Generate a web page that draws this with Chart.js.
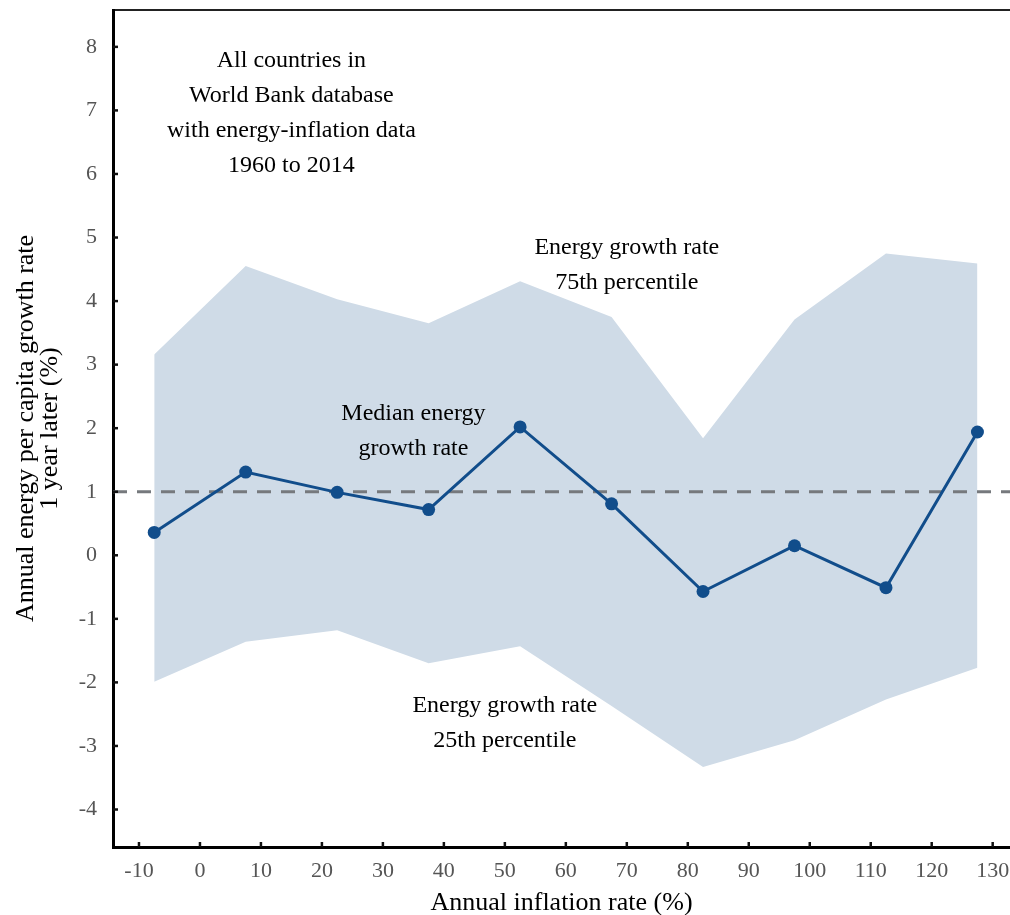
<!DOCTYPE html>
<html>
<head>
<meta charset="utf-8">
<script src="https://cdn.jsdelivr.net/npm/chart.js@4.4.1/dist/chart.umd.min.js"></script>
<style>
  html, body { margin: 0; padding: 0; background: #fff; }
  #wrap { width: 1010px; height: 915px; }
</style>
</head>
<body>
<div id="wrap"><canvas id="myChart" width="1010" height="915"></canvas></div>
<script>
// inflation bins (bin centres, %) and energy growth one year later (%)
let inflation = [-7.5, 7.5, 22.5, 37.5, 52.5, 67.5, 82.5, 97.5, 112.5, 127.5]
let median = [0.36, 1.31, 0.99, 0.72, 2.02, 0.81, -0.57, 0.15, -0.51, 1.94]
let p75 = [3.16, 4.55, 4.03, 3.65, 4.31, 3.75, 1.84, 3.71, 4.75, 4.59]
let p25 = [-1.99, -1.36, -1.18, -1.70, -1.43, -2.37, -3.33, -2.91, -2.27, -1.77]
let refLevel = 1

let xTicks = [-10, 0, 10, 20, 30, 40, 50, 60, 70, 80, 90, 100, 110, 120, 130]
let yTicks = [-4, -3, -2, -1, 0, 1, 2, 3, 4, 5, 6, 7, 8]

let xMin = -14.26, xMax = 132.84
let yMin = -4.59, yMax = 8.58

const serif = '"Liberation Serif", "Times New Roman", serif'
const lineBlue = '#114d8b'
const bandBlue = '#cfdbe7'
const tickGrey = '#555555'

// text notes placed in data coordinates
let notes = [
    { x: 15, y: 6.96, lines: ['All countries in', 'World Bank database', 'with energy-inflation data', '1960 to 2014'] },
    { x: 70, y: 4.56, lines: ['Energy growth rate', '75th percentile'] },
    { x: 35, y: 1.96, lines: ['Median energy', 'growth rate'] },
    { x: 50, y: -2.64, lines: ['Energy growth rate', '25th percentile'] }
]

function points(ys) {
    return inflation.map((x, i) => ({ x: x, y: ys[i] }))
}

// no extra room for half labels at the ends of the axes
function noEdgePadding(s) {
    s.paddingTop = 0
    s.paddingBottom = 0
    s.paddingLeft = 0
    s.paddingRight = 0
}

// short tick marks pointing into the plot, plus the text notes
const extras = {
    id: 'extras',
    afterDatasetsDraw(chart) {
        const ctx = chart.ctx
        const xs = chart.scales.x, ys = chart.scales.y
        const area = chart.chartArea
        ctx.save()
        ctx.strokeStyle = '#111'
        ctx.lineWidth = 2.5
        xTicks.forEach(v => {
            let px = xs.getPixelForValue(v)
            ctx.beginPath()
            ctx.moveTo(px, area.bottom)
            ctx.lineTo(px, area.bottom - 5)
            ctx.stroke()
        })
        yTicks.forEach(v => {
            let py = ys.getPixelForValue(v)
            ctx.beginPath()
            ctx.moveTo(area.left, py)
            ctx.lineTo(area.left + 5, py)
            ctx.stroke()
        })

        ctx.fillStyle = '#000'
        ctx.font = '24px ' + serif
        ctx.textAlign = 'center'
        ctx.textBaseline = 'middle'
        notes.forEach(n => {
            let cx = xs.getPixelForValue(n.x)
            let cy = ys.getPixelForValue(n.y)
            n.lines.forEach((t, i) => {
                ctx.fillText(t, cx, cy + (i - (n.lines.length - 1) / 2) * 35)
            })
        })
        ctx.restore()
    }
}

var chart = new Chart('myChart', {
    type: 'line',
    data: {
        datasets: [
            {
                label: 'Median',
                data: points(median),
                borderColor: lineBlue,
                backgroundColor: lineBlue,
                borderWidth: 3,
                pointRadius: 6.5,
                pointBorderWidth: 0,
                fill: false,
                order: 0
            },
            {
                label: 'Reference',
                data: [{ x: xMin, y: refLevel }, { x: xMax, y: refLevel }],
                borderColor: '#76797d',
                borderWidth: 3,
                borderDash: [14, 10],
                pointRadius: 0,
                fill: false,
                order: 1
            },
            {
                label: '75th percentile',
                data: points(p75),
                borderWidth: 0,
                pointRadius: 0,
                backgroundColor: bandBlue,
                fill: '+1',
                order: 2
            },
            {
                label: '25th percentile',
                data: points(p25),
                borderWidth: 0,
                pointRadius: 0,
                fill: false,
                order: 3
            }
        ]
    },
    options: {
        responsive: false,
        animation: false,
        layout: { autoPadding: false, padding: { top: 10, left: 0, right: 0, bottom: 0 } },
        elements: { line: { tension: 0 } },
        plugins: {
            legend: { display: false },
            tooltip: { enabled: false }
        },
        scales: {
            x: {
                type: 'linear',
                position: 'bottom',
                min: xMin,
                max: xMax,
                afterBuildTicks: s => { s.ticks = xTicks.map(v => ({ value: v })) },
                afterFit: s => { s.height = 68; noEdgePadding(s) },
                grid: { display: false, drawTicks: false },
                border: { display: true, color: '#000', width: 3 },
                ticks: {
                    color: tickGrey,
                    padding: 11,
                    maxRotation: 0,
                    font: { family: serif, size: 22 }
                },
                title: {
                    display: true,
                    text: 'Annual inflation rate (%)',
                    color: '#000',
                    font: { family: serif, size: 26, lineHeight: 0.9 },
                    padding: { top: 0, bottom: 0 }
                }
            },
            x2: {
                type: 'linear',
                position: 'top',
                min: xMin,
                max: xMax,
                afterFit: s => { s.height = 0; noEdgePadding(s) },
                grid: { display: false, drawTicks: false },
                border: { display: true, color: '#222', width: 2 },
                ticks: { display: false }
            },
            y: {
                type: 'linear',
                position: 'left',
                min: yMin,
                max: yMax,
                afterBuildTicks: s => { s.ticks = yTicks.map(v => ({ value: v })) },
                afterFit: s => { s.width = 113; noEdgePadding(s) },
                grid: { display: false, drawTicks: false },
                border: { display: true, color: '#000', width: 3 },
                ticks: {
                    color: tickGrey,
                    padding: 16,
                    font: { family: serif, size: 22 }
                },
                title: {
                    display: true,
                    text: ['Annual energy per capita growth rate', '1 year later (%)'],
                    color: '#000',
                    font: { family: serif, size: 26, lineHeight: 0.93 },
                    padding: { top: 14, bottom: 0 }
                }
            }
        }
    },
    plugins: [extras]
})
</script>
</body>
</html>
